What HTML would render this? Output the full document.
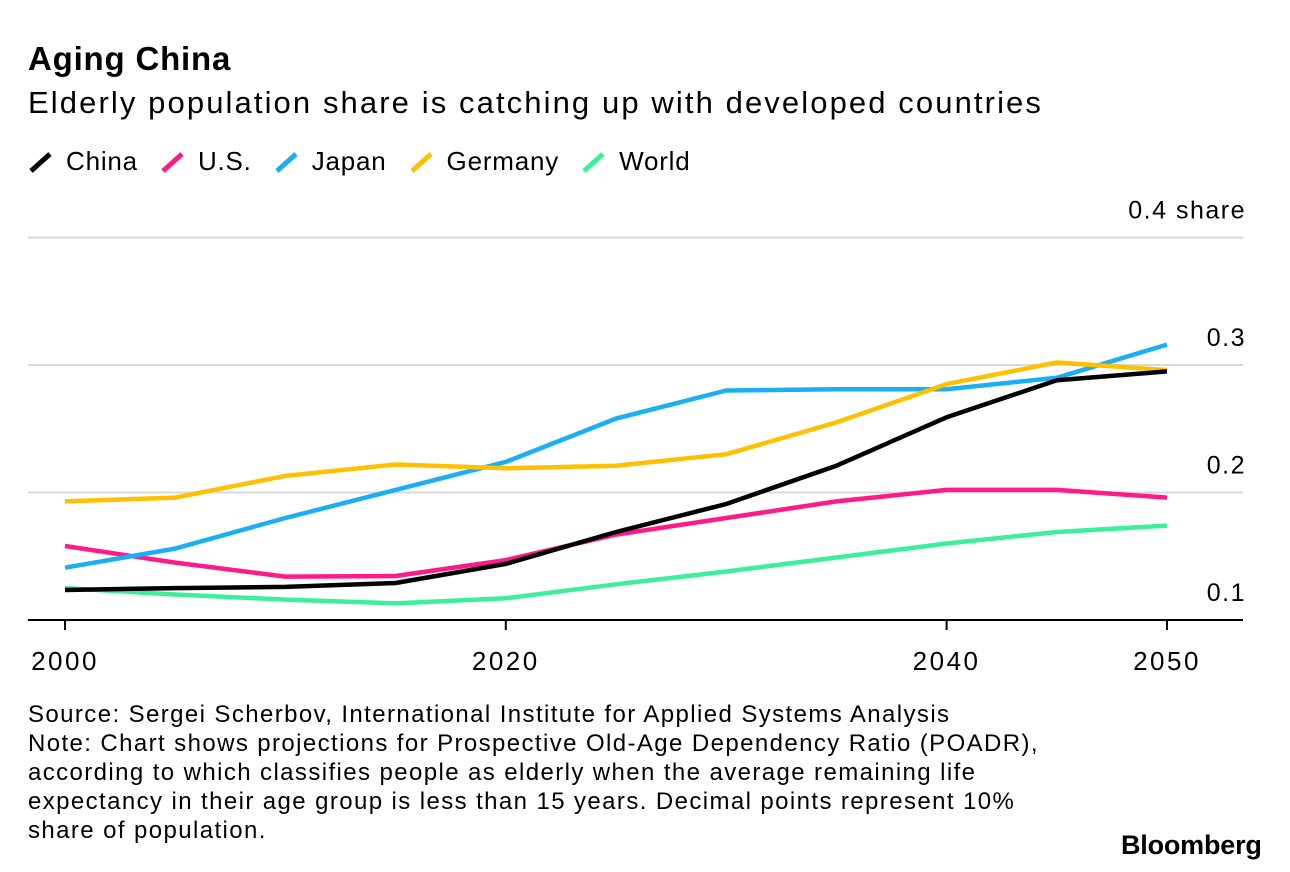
<!DOCTYPE html>
<html><head><meta charset="utf-8"><style>
body{margin:0;background:#fff;font-family:"Liberation Sans",sans-serif;color:#000}
#wrap{position:relative;width:1290px;height:872px;overflow:hidden}
.t{position:absolute;white-space:nowrap}
</style></head><body>
<div id="wrap">
<div class="t" style="left:28px;top:40px;font-size:33px;font-weight:bold;letter-spacing:0.8px">Aging China</div>
<div class="t" style="left:28px;top:85px;font-size:31px;letter-spacing:2.1px">Elderly population share is catching up with developed countries</div>
<div id="legend" class="t" style="left:28px;top:146px;font-size:26px;letter-spacing:0.8px;display:flex;gap:0"></div>
<svg id="chart" width="1290" height="872" style="position:absolute;left:0;top:0"></svg>
<div class="t" style="left:28px;top:700px;font-size:24px;line-height:29px;letter-spacing:1.4px">Source: Sergei Scherbov, International Institute for Applied Systems Analysis<br>Note: Chart shows projections for Prospective Old-Age Dependency Ratio (POADR),<br>according to which classifies people as elderly when the average remaining life<br>expectancy in their age group is less than 15 years. Decimal points represent 10%<br>share of population.</div>
<div class="t" style="left:1121px;top:830px;font-size:27px;font-weight:bold;letter-spacing:-0.2px">Bloomberg</div>
</div>
<script>
const years=[2000,2005,2010,2015,2020,2025,2030,2035,2040,2045,2050];
const seriesNames=["China","U.S.","Japan","Germany","World"];
const seriesColors=["#000000","#ff1a8c","#19aff2","#ffc000","#3cef9a"];
const china=[0.1235,0.125,0.126,0.129,0.144,0.169,0.191,0.221,0.259,0.288,0.295];
const us=[0.158,0.145,0.134,0.1345,0.147,0.167,0.180,0.193,0.202,0.202,0.196];
const japan=[0.141,0.156,0.180,0.202,0.224,0.258,0.280,0.281,0.281,0.290,0.316];
const germany=[0.193,0.196,0.213,0.222,0.219,0.221,0.230,0.255,0.285,0.302,0.296];
const world=[0.125,0.120,0.116,0.113,0.117,0.128,0.138,0.149,0.160,0.169,0.174];
const yTicks=[0.1,0.2,0.3,0.4];
const yTickLabels=["0.1","0.2","0.3","0.4 share"];
const xTicks=[2000,2020,2040,2050];
const xTickLabels=["2000","2020","2040","2050"];
const X=v=>65+(v-2000)*(1167-65)/50;
const Y=v=>620-(v-0.1)*1275;
const NS="http://www.w3.org/2000/svg";
const svg=document.getElementById('chart');
function mk(tag,attrs){const e=document.createElementNS(NS,tag);for(const k in attrs)e.setAttribute(k,attrs[k]);svg.appendChild(e);return e;}
yTicks.forEach((v,i)=>{
  if(v>0.1){const g=mk('line',{x1:28,x2:1243,y1:Y(v),y2:Y(v),stroke:'#d9d9d9','stroke-width':2});
  
  }
  const t=mk('text',{x:1246,y:Y(v)-19,'text-anchor':'end','font-size':25,'letter-spacing':1.5,'font-family':'Liberation Sans, sans-serif'});
  t.textContent=yTickLabels[i];
  
  
});
const ax=mk('line',{x1:28,x2:1243,y1:620,y2:620,stroke:'#000','stroke-width':2});


xTicks.forEach((v,i)=>{
  const tk=mk('line',{x1:X(v),x2:X(v),y1:620,y2:630,stroke:'#000','stroke-width':2});
  
  
  const t=mk('text',{x:X(v),y:670,'text-anchor':'middle','font-size':26,'letter-spacing':2.5,'font-family':'Liberation Sans, sans-serif'});
  t.textContent=xTickLabels[i];
  
  
});
const allSeries=[china,us,japan,germany,world];
const order=[4,1,2,3,0];
order.forEach(si=>{
  const d=allSeries[si].map((v,i)=>(i?'L':'M')+X(years[i]).toFixed(1)+','+Y(v).toFixed(1)).join(' ');
  const p=mk('path',{d:d,fill:'none',stroke:seriesColors[si],'stroke-width':4.5,'stroke-linejoin':'round'});
  
  
});
const leg=document.getElementById('legend');
seriesNames.forEach((n,i)=>{
  const s=document.createElement('span');
  
  
  s.style.marginRight='22px';s.style.display='flex';s.style.alignItems='center';
  s.innerHTML='<svg width="28" height="24" style="margin-right:10px"><line x1="3" y1="21" x2="22" y2="4" stroke="'+seriesColors[i]+'" stroke-width="5"/></svg>'+n;
  leg.appendChild(s);
});
</script>
</body></html>
